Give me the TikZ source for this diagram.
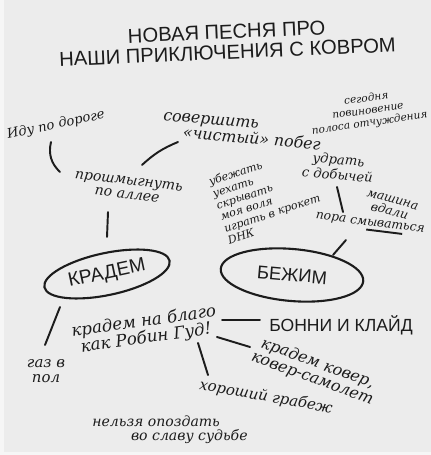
\documentclass[tikz,border=0pt]{standalone}
\usepackage{fontspec}
\setmainfont{DejaVu Serif}
\newfontfamily\capsfont{Liberation Sans}
\usetikzlibrary{shapes.geometric, calc}
\definecolor{paper}{RGB}{236,236,236}
\definecolor{rim}{RGB}{246,246,246}
\definecolor{ink}{RGB}{28,28,28}
% thick hand-drawn underline
\newcommand\thickul[1]{\setbox0\hbox{#1}\rlap{\rule[-3pt]{\wd0}{1.1pt}}\box0}

\begin{document}
\begin{tikzpicture}[x=0.02cm, y=-0.02cm,
    hand/.style={font=\fontsize{#1}{#1}\selectfont\itshape, text=ink, align=center, inner sep=1pt},
    caps/.style={font=\capsfont\fontsize{#1}{#1}\selectfont, text=ink, align=center, inner sep=1pt},
    bubble/.style={ellipse, draw=ink, line width=1.2pt},
    link/.style={draw=ink, line width=1.1pt, line cap=round}]
  % paper
  \fill[rim] (0,0) rectangle (431,455);
  \fill[paper] (4,0) rectangle (431,452);
  \useasboundingbox (0,0) rectangle (431,455);

  % title
  \node[caps=11.5, rotate=2.5] (title) at (227,42) {НОВАЯ ПЕСНЯ ПРО\\НАШИ ПРИКЛЮЧЕНИЯ С КОВРОМ};

  % upper notes
  \node[hand=7.5, rotate=12] (idu) at (56,125) {Иду по дороге};
  \node[hand=9, rotate=-5, align=left] (sover) at (242,131) {совершить\\\hspace*{12pt}«чистый» побег};
  \node[hand=6, font=\fontsize{6}{7}\selectfont\itshape, rotate=8] (segod) at (368,111)
    {сегодня\\повиновение\\полоса отчуждения};
  \node[hand=7.5, rotate=-5] (udrat) at (338,167) {удрать\\с добычей};
  \node[hand=7, rotate=-15] (mashina) at (391,206) {машина\\вдали};
  \node[hand=7, rotate=-7] (pora) at (370,225) {пора см\thickul{ыват}ься};
  \node[hand=6.5, font=\fontsize{6.3}{7}\selectfont\itshape, rotate=18, align=left,
        anchor=north west] (beg) at (205,176)
    {убежать\\уехать\\скрывать\\моя воля\\играть в крокет\\DНК};
  \node[hand=8, rotate=-7] (proshm) at (128,188) {прошмыгнуть\\по аллее};

  % main bubbles
  \node[bubble, rotate=12, minimum width=2.56cm, minimum height=0.84cm,
        caps=11] (kradem) at (107,274) {КРАДЕМ};
  \node[bubble, rotate=-5, minimum width=2.86cm, minimum height=1.04cm,
        caps=10.5] (bezhim) at (292,275) {БЕЖИМ};

  % lower notes
  \node[hand=8.5] (gaz) at (46,371) {газ в\\пол};
  \node[hand=9.5, rotate=8] (robin) at (145,330) {крадем на благо\\как Робин Гуд!};
  \node[caps=10] (bonnie) at (341,325) {БОННИ И КЛАЙД};
  \node[hand=9, rotate=-20] (kover) at (315,371) {крадем ковер,\\ковер-самолет};
  \node[hand=8.5, rotate=-10] (horosh) at (266,397) {хороший грабеж};
  \node[hand=8, align=left] (nelzya) at (170,430) {нельзя опоздать\\\hspace*{22pt}во славу судьбе};

  % connectors
  \draw[link] ($(idu)+(-5,17)$) to[bend right=30] ($(proshm)+(-68,-16)$);
  \draw[link] ($(sover)+(-64,11)$) to[bend right=10] ($(proshm)+(14,-23)$);
  \draw[link] ($(proshm)+(-20,24)$) -- ($(kradem)+(0,-37)$);
  \draw[link] ($(udrat)+(-1,20)$) -- ($(pora)+(-27,-13)$);
  \draw[link] ($(pora)+(-24,15)$) -- ($(bezhim)+(41,-20)$);
  \draw[link] ($(kradem)+(-47,33)$) -- ($(gaz)+(-1,-26)$);
  \draw[link] ($(robin)+(77,-10)$) -- ($(bonnie)+(-81,-5)$);
  \draw[link] ($(robin)+(72,7)$) -- ($(kover)+(-65,-24)$);
  \draw[link] ($(robin)+(53,13)$) -- ($(horosh)+(-58,-22)$);
\end{tikzpicture}
\end{document}
